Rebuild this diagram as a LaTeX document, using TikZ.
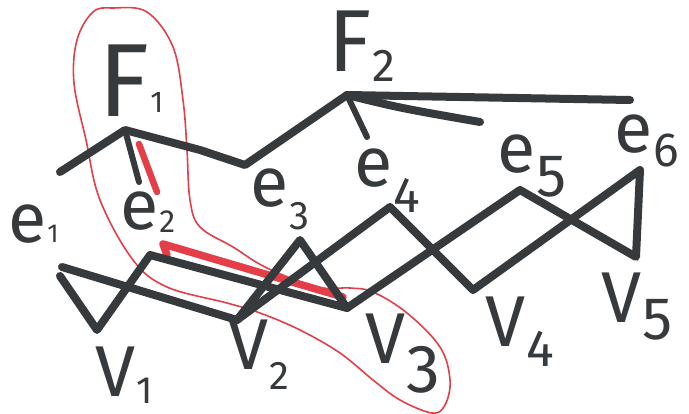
\documentclass[tikz,border=0pt]{standalone}
\usepackage{fontspec}
\setmainfont{Fira Sans}
\definecolor{ink}{RGB}{55,58,60}
\definecolor{redink}{RGB}{228,62,72}
% #1 size, #2 drop (pt), #3 digit
\newcommand\lsub[3]{\kern1pt\raisebox{-#2pt}{\fontsize{#1}{#1}\selectfont #3}}
\begin{document}
\begin{tikzpicture}[x=1pt,y=-1pt,
  edge/.style={ink, line width=8pt, line cap=round, line join=round},
  stub/.style={ink, line width=6pt, line cap=round},
  redthick/.style={redink, line width=7.5pt, line cap=round, line join=round},
  loop/.style={redink, line width=1.6pt},
  lbl/.style={text=ink, inner sep=0pt, anchor=base west},
  elbl/.style={lbl, font=\fontsize{70}{70}\selectfont},
  vlbl/.style={lbl, font=\fontsize{72}{72}\selectfont},
  flbl/.style={lbl, font=\fontsize{104}{104}\selectfont}]
\useasboundingbox (0,0) rectangle (689,414);

% red enclosing loop
\draw[loop] plot[smooth cycle, tension=0.6] coordinates {
  (113,8) (147,12) (173,47) (183,100) (187,150) (190,200) (200,227)
  (233,247) (267,268) (317,287) (350,288) (373,292) (407,313) (440,347)
  (450,380) (445,405) (432,413) (400,400) (373,380) (340,353) (300,330)
  (260,313) (227,303) (167,287) (133,260) (100,200) (86,140) (74,83) (77,40) (93,12)};

% top hypergraph points
\coordinate (F1) at (125,130);
\coordinate (F2) at (347,95);
\coordinate (t1) at (60,172);
\coordinate (t2) at (139,182);
\coordinate (t3) at (245,165);
\coordinate (t3a) at (200,150);
\coordinate (t4) at (367,137);
\coordinate (t5) at (480,122);
\coordinate (t6) at (630,100);
\coordinate (r1) at (139,144);
\coordinate (r2) at (157,192);

% bottom incidence points
\coordinate (e1a) at (62,267);
\coordinate (e1b) at (60,276);
\coordinate (V1) at (97,330);
\coordinate (e2) at (150,255);
\coordinate (V2) at (237,320);
\coordinate (e3) at (300,240);
\coordinate (V3) at (347,308);
\coordinate (e4) at (390,207);
\coordinate (V4) at (473,290);
\coordinate (e5) at (520,190);
\coordinate (V5) at (636,257);
\coordinate (e6) at (640,170);
\coordinate (h0) at (167,255);
\coordinate (h1) at (163,244);
\coordinate (h2) at (343,297);

% red strokes
\draw[redthick, line width=6.5pt] (r1) -- (r2);
\draw[redthick] (h0) -- (h1) -- (h2);

% top black strokes
\draw[edge] (t1) -- (F1) -- (t3a) -- (t3) -- (F2);
\draw[stub] (F1) -- (t2);
\draw[edge] (F2) -- (t6);
\draw[edge] (F2) .. controls (400,108) .. (t5);
\draw[stub] (F2) -- (t4);

% bottom black strokes
\draw[edge] (e1b) -- (V1) -- (e2) -- (V3) -- (e3) -- (V2) -- (e1a);
\draw[edge] (V2) -- (e4) -- (V4) -- (e6) -- (V5) -- (e5) -- (V3);

% labels (anchored at the baseline of the main letter)
\node[flbl] (lF1) at (98,117) {F\lsub{30}{-4}{1}};
\node[flbl, font=\fontsize{88}{88}\selectfont] (lF2) at (328,72) {F\lsub{46}{10}{2}};
\node[elbl] (le1) at (8,243) {e\lsub{26}{0}{1}};
\node[elbl] (le2) at (120,230) {e\lsub{32}{3}{2}};
\node[elbl] (le3) at (250,207) {e\lsub{40}{23}{3}};
\node[elbl] (le4) at (354,187) {e\lsub{50}{26}{4}};
\node[elbl] (le5) at (497,173) {e\lsub{60}{24}{5}};
\node[elbl] (le6) at (614,153) {e\lsub{48}{14}{6}};
\node[vlbl] (lV1) at (95,397) {V\lsub{38}{6}{1}};
\node[vlbl] (lV2) at (228,370) {V\lsub{40}{20}{2}};
\node[vlbl] (lV3) at (365,363) {V\lsub{68}{30}{3}};
\node[vlbl] (lV4) at (485,347) {V\lsub{52}{20}{4}};
\node[vlbl] (lV5) at (601,323) {V\lsub{60}{17}{5}};
\end{tikzpicture}
\end{document}
